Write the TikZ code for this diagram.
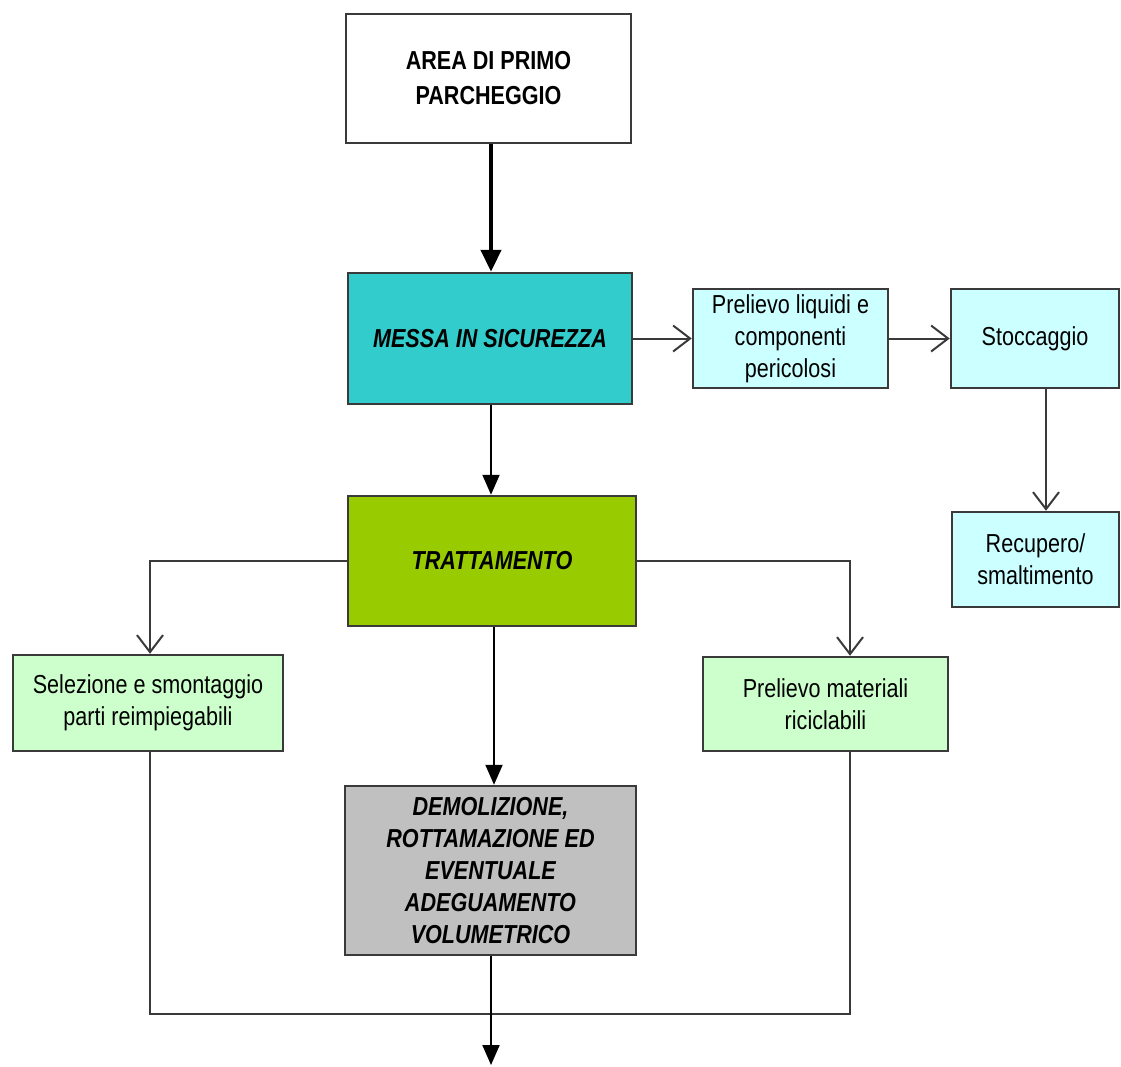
\documentclass[tikz,border=0pt]{standalone}
\usepackage{fontspec}
\setmainfont{Liberation Sans}[FakeStretch=0.83]
\usetikzlibrary{arrows.meta}
\definecolor{teal1}{HTML}{33CCCC}
\definecolor{cyanl}{HTML}{CCFFFF}
\definecolor{greenA}{HTML}{99CC00}
\definecolor{greenl}{HTML}{CCFFCC}
\definecolor{grayb}{HTML}{C0C0C0}
\definecolor{edge}{HTML}{3A3A3A}
\tikzset{
  box/.style={draw=edge, line width=2.5pt, rectangle, inner sep=0pt, align=center,
    font=\fontsize{26}{32}\selectfont},
  bbox/.style={box, font=\fontsize{26}{35}\selectfont\bfseries},
  bibox/.style={box, font=\fontsize{26}{32}\selectfont\bfseries\itshape},
  thin/.style={draw=edge, line width=2pt},
  openarr/.style={thin, -{Straight Barb[length=17pt,width=26pt,line width=2pt]}},
  fillarr/.style={draw=black, line width=2pt, -{Triangle[length=20pt,width=17pt]}},
  thickarr/.style={draw=black, line width=4.5pt, -{Triangle[length=22pt,width=20pt]}},
}
\begin{document}
\begin{tikzpicture}[x=1pt,y=-1pt]
\useasboundingbox (0,0) rectangle (1121,1066);
\node[bbox, minimum width=285pt, minimum height=129pt] (area) at (488.5,78.5) {AREA DI PRIMO\\PARCHEGGIO};
\node[bibox, fill=teal1, minimum width=284pt, minimum height=131pt] (messa) at (490,338.5) {MESSA IN SICUREZZA};
\node[box, fill=cyanl, minimum width=195pt, minimum height=99pt] (prel) at (790.5,338.5) {Prelievo liquidi e\\componenti\\pericolosi};
\node[box, fill=cyanl, minimum width=168pt, minimum height=99pt] (stocc) at (1035,338.5) {Stoccaggio};
\node[box, fill=cyanl, minimum width=167pt, minimum height=95pt] (recup) at (1035.5,559.5) {Recupero/\\smaltimento};
\node[bibox, fill=greenA, minimum width=288pt, minimum height=130pt] (tratt) at (492,561) {TRATTAMENTO};
\node[box, fill=greenl, minimum width=270pt, minimum height=96pt] (selez) at (148,703) {Selezione e smontaggio\\parti reimpiegabili};
\node[box, fill=greenl, minimum width=245pt, minimum height=94pt] (prelmat) at (825.5,704) {Prelievo materiali\\riciclabili};
\node[bibox, fill=grayb, minimum width=291pt, minimum height=169pt] (demol) at (490.5,870.5) {DEMOLIZIONE,\\ROTTAMAZIONE ED\\EVENTUALE\\ADEGUAMENTO\\VOLUMETRICO};
\coordinate (endpt) at (491,1065);

\draw[thickarr] ([xshift=2.5pt]area.south) -- ([xshift=2.5pt]area.south |- messa.north);
\draw[openarr] (messa.east) -- (messa.east -| prel.west);
\draw[openarr] (prel.east) -- (stocc.west);
\draw[openarr] ([xshift=11pt]stocc.south) -- ([xshift=11pt]stocc.south |- recup.north);
\draw[fillarr] ([xshift=1pt]messa.south) -- ([xshift=1pt]messa.south |- tratt.north);
\draw[openarr] (tratt.west) -| ([xshift=2pt]selez.north);
\draw[openarr] (tratt.east) -| ([xshift=24.5pt]prelmat.north);
\draw[fillarr] ([xshift=2pt]tratt.south) -- ([xshift=2pt]tratt.south |- demol.north);
\draw[thin] ([xshift=2pt]selez.south) -- ++(0,262) -| ([xshift=24.5pt]prelmat.south);
\draw[fillarr] (endpt |- demol.south) -- (endpt);
\end{tikzpicture}
\end{document}
